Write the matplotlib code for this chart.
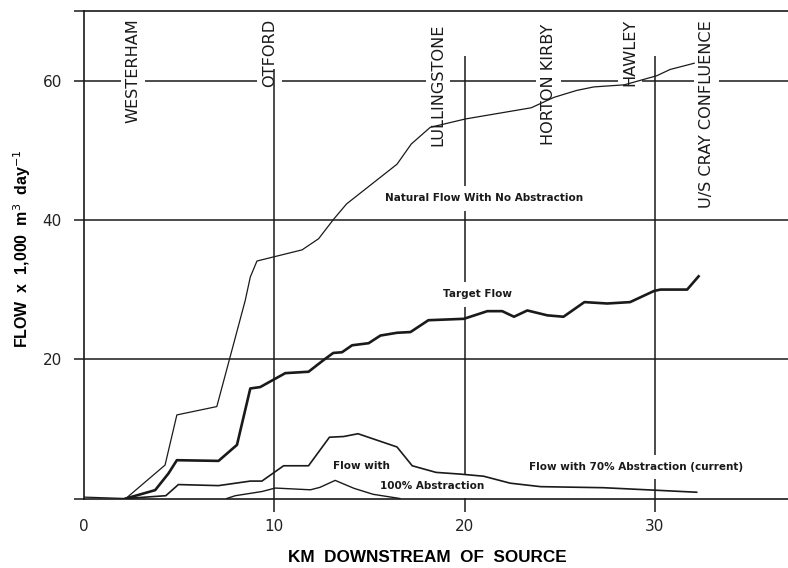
import matplotlib
matplotlib.use('Agg')
import matplotlib.pyplot as plt

# Flow along the river, km downstream of source vs flow (x 1,000 m3/day)
natural_km = [0, 2.2, 4.26, 4.88, 6.98, 8.47, 8.74, 9.09, 11.46, 12.33, 13.12,
              13.8, 16.45, 17.2, 18.2, 20.05, 23.5, 24.7, 25.9, 26.8, 28.4,
              30.1, 30.8, 32.07]
natural_flow = [0.2, 0, 4.8, 12.0, 13.2, 28.4, 31.8, 34.1, 35.7, 37.3, 40.1,
                42.3, 48.0, 50.9, 53.3, 54.5, 56.1, 57.6, 58.6, 59.1, 59.4,
                60.7, 61.6, 62.5]

target_km = [2.2, 3.74, 4.44, 4.88, 7.07, 8.04, 8.74, 9.26, 10.58, 11.8, 12.6,
             13.1, 13.56, 14.09, 14.96, 15.58, 16.46, 17.16, 18.1, 19.96, 21.2,
             21.98, 22.6, 23.3, 24.35, 25.2, 26.3, 27.5, 28.7, 29.96, 30.3,
             31.7, 32.3]
target_flow = [0, 1.2, 3.6, 5.5, 5.4, 7.7, 15.8, 16.0, 18.0, 18.2, 19.9,
               20.9, 21.0, 22.0, 22.3, 23.4, 23.8, 23.9, 25.6, 25.8, 26.9,
               26.9, 26.1, 27.0, 26.3, 26.1, 28.2, 28.0, 28.2, 29.8, 30.0,
               30.0, 31.9]

abs70_km = [2.2, 4.3, 4.96, 7.07, 8.74, 9.35, 10.49, 11.8, 12.9, 13.65, 14.4,
            16.45, 17.25, 18.5, 19.79, 21.0, 22.4, 24.0, 27.3, 29.96, 32.2]
abs70_flow = [0, 0.4, 2.0, 1.85, 2.5, 2.5, 4.7, 4.7, 8.8, 8.9, 9.3,
              7.4, 4.7, 3.75, 3.5, 3.2, 2.2, 1.7, 1.55, 1.2, 0.9]

abs100_km = [7.5, 7.95, 9.35, 10.05, 11.9, 12.4, 13.2, 14.2, 15.2, 16.6]
abs100_flow = [0, 0.4, 1.0, 1.5, 1.25, 1.6, 2.6, 1.45, 0.6, 0.0]

# Places along the river
place_names = ['WESTERHAM', 'OTFORD', 'LULLINGSTONE', 'HORTON KIRBY',
               'HAWLEY', 'U/S CRAY CONFLUENCE']
place_km = [2.58, 9.75, 18.6, 24.4, 28.7, 32.7]
place_top = [68.9, 68.9, 68.2, 68.2, 68.9, 68.6]

# Reference verticals (km, top of line)
marker_km = [10, 20, 30]
marker_top = [61.7, 63.5, 63.5]

x_ticks = [0, 10, 20, 30]
y_ticks = [0, 20, 40, 60, 70]
y_tick_labels = ['', '20', '40', '60', '']

# Curve annotations: text, km, flow
notes = [
    ('Natural Flow With No Abstraction', 21.05, 43.1),
    ('Target Flow', 20.7, 29.3),
    ('Flow with', 14.6, 4.7),
    ('100% Abstraction', 18.3, 1.8),
    ('Flow with 70% Abstraction (current)', 29.0, 4.5),
]

INK = '#1a1a1a'


def build_figure():
    fig = plt.figure(figsize=(7.88, 5.68), dpi=100)
    ax = fig.add_axes([84 / 788, 69.5 / 568, 1 - 84 / 788, 487.5 / 568])
    ax.set_xlim(0, 37)
    ax.set_ylim(0, 70)

    # horizontal grid
    for y in y_ticks[1:-1]:
        ax.axhline(y, color=INK, lw=1.1, zorder=0.5)

    for name, x, top in zip(place_names, place_km, place_top):
        ax.text(x, top, name, rotation=90, ha='center', va='top',
                fontsize=11.6, color=INK, zorder=1.5,
                bbox=dict(boxstyle='square,pad=0.3', fc='white', ec='none'))

    ax.vlines(marker_km, 0, marker_top, color=INK, lw=1.1, zorder=2)

    for txt, x, y in notes:
        ax.text(x, y, txt, ha='center', va='center', fontsize=7.5,
                fontweight='bold', color=INK, zorder=2.5,
                bbox=dict(boxstyle='square,pad=0.7', fc='white', ec='none'))

    ax.plot(natural_km, natural_flow, color=INK, lw=0.9, zorder=3)
    ax.plot(target_km, target_flow, color=INK, lw=1.9, zorder=3)
    ax.plot(abs70_km, abs70_flow, color=INK, lw=1.2, zorder=3)
    ax.plot(abs100_km, abs100_flow, color=INK, lw=1.0, zorder=3)

    # axes frame
    ax.spines['right'].set_visible(False)
    for s in ('left', 'top', 'bottom'):
        ax.spines[s].set_color(INK)
        ax.spines[s].set_linewidth(1.2)
        ax.spines[s].set_zorder(4)

    ax.set_xticks(x_ticks)
    ax.set_yticks(y_ticks)
    ax.set_yticklabels(y_tick_labels)
    ax.tick_params(axis='x', direction='out', length=9, width=1.1,
                   color=INK, labelsize=11, labelcolor='#222', pad=6)
    ax.tick_params(axis='y', direction='out', length=7, width=1.1,
                   color=INK, labelsize=11, labelcolor='#222', pad=9)
    ax.xaxis.get_major_ticks()[0].tick1line.set_visible(False)

    ax.set_xlabel('KM  DOWNSTREAM  OF  SOURCE', fontsize=12.3,
                  fontweight='bold', family='Liberation Sans', va='center')
    ax.xaxis.set_label_coords(0.487, -0.122)
    ax.set_ylabel('FLOW  x  1,000  m$^3$  day$^{-1}$', fontsize=11.5,
                  fontweight='bold', family='Liberation Sans', va='center')
    ax.yaxis.set_label_coords(-0.088, 0.512)
    return fig


def main():
    fig = build_figure()
    fig.savefig('out.png', dpi=100)


if __name__ == '__main__':
    main()
